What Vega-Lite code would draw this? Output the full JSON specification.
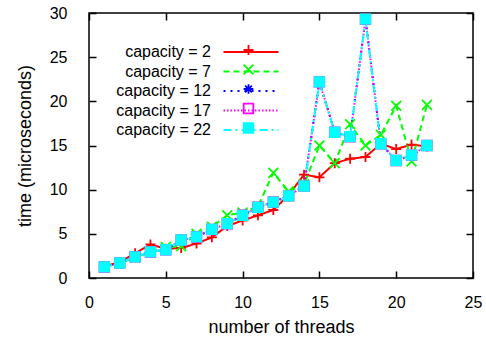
{
  "$schema": "https://vega.github.io/schema/vega-lite/v6.json",
  "autosize": "none",
  "width": 384,
  "height": 265,
  "padding": {"left": 89, "top": 13, "right": 13, "bottom": 65},
  "background": "white",
  "config": {
    "font": "Liberation Sans",
    "view": {"stroke": "#000000", "strokeWidth": 1.5},
    "axis": {"grid": false, "labelColor": "#000", "tickColor": "#000", "domain": false, "labelFlush": false, "labelOverlap": false, "labelBound": false, "labelFontSize": 16, "titleFontSize": 18, "titleFontWeight": "normal", "titleColor": "#000", "tickWidth": 1.5, "tickSize": -7},
    "legend": {"labelFontSize": 16, "labelColor": "#000"}
  },
  "data": {"values": [
    {"threads": 1, "capacity": "capacity = 2", "time": 1.3},
    {"threads": 2, "capacity": "capacity = 2", "time": 1.8},
    {"threads": 3, "capacity": "capacity = 2", "time": 2.8},
    {"threads": 4, "capacity": "capacity = 2", "time": 3.8},
    {"threads": 5, "capacity": "capacity = 2", "time": 3.3},
    {"threads": 6, "capacity": "capacity = 2", "time": 3.4},
    {"threads": 7, "capacity": "capacity = 2", "time": 3.9},
    {"threads": 8, "capacity": "capacity = 2", "time": 4.6},
    {"threads": 9, "capacity": "capacity = 2", "time": 5.9},
    {"threads": 10, "capacity": "capacity = 2", "time": 6.5},
    {"threads": 11, "capacity": "capacity = 2", "time": 7.1},
    {"threads": 12, "capacity": "capacity = 2", "time": 7.7},
    {"threads": 13, "capacity": "capacity = 2", "time": 9.4},
    {"threads": 14, "capacity": "capacity = 2", "time": 11.7},
    {"threads": 15, "capacity": "capacity = 2", "time": 11.4},
    {"threads": 16, "capacity": "capacity = 2", "time": 13.0},
    {"threads": 17, "capacity": "capacity = 2", "time": 13.5},
    {"threads": 18, "capacity": "capacity = 2", "time": 13.7},
    {"threads": 19, "capacity": "capacity = 2", "time": 15.2},
    {"threads": 20, "capacity": "capacity = 2", "time": 14.6},
    {"threads": 21, "capacity": "capacity = 2", "time": 15.1},
    {"threads": 22, "capacity": "capacity = 2", "time": 14.9},
    {"threads": 1, "capacity": "capacity = 7", "time": 1.2},
    {"threads": 2, "capacity": "capacity = 7", "time": 1.7},
    {"threads": 3, "capacity": "capacity = 7", "time": 2.3},
    {"threads": 4, "capacity": "capacity = 7", "time": 2.9},
    {"threads": 5, "capacity": "capacity = 7", "time": 3.5},
    {"threads": 6, "capacity": "capacity = 7", "time": 3.6},
    {"threads": 7, "capacity": "capacity = 7", "time": 5.0},
    {"threads": 8, "capacity": "capacity = 7", "time": 5.8},
    {"threads": 9, "capacity": "capacity = 7", "time": 7.1},
    {"threads": 10, "capacity": "capacity = 7", "time": 7.4},
    {"threads": 11, "capacity": "capacity = 7", "time": 8.1},
    {"threads": 12, "capacity": "capacity = 7", "time": 11.9},
    {"threads": 13, "capacity": "capacity = 7", "time": 9.8},
    {"threads": 14, "capacity": "capacity = 7", "time": 10.6},
    {"threads": 15, "capacity": "capacity = 7", "time": 15.0},
    {"threads": 16, "capacity": "capacity = 7", "time": 13.0},
    {"threads": 17, "capacity": "capacity = 7", "time": 17.4},
    {"threads": 18, "capacity": "capacity = 7", "time": 15.0},
    {"threads": 19, "capacity": "capacity = 7", "time": 16.2},
    {"threads": 20, "capacity": "capacity = 7", "time": 19.5},
    {"threads": 21, "capacity": "capacity = 7", "time": 13.2},
    {"threads": 22, "capacity": "capacity = 7", "time": 19.6},
    {"threads": 1, "capacity": "capacity = 12", "time": 1.25},
    {"threads": 2, "capacity": "capacity = 12", "time": 1.7},
    {"threads": 3, "capacity": "capacity = 12", "time": 2.4},
    {"threads": 4, "capacity": "capacity = 12", "time": 2.95},
    {"threads": 5, "capacity": "capacity = 12", "time": 3.2},
    {"threads": 6, "capacity": "capacity = 12", "time": 4.3},
    {"threads": 7, "capacity": "capacity = 12", "time": 4.65},
    {"threads": 8, "capacity": "capacity = 12", "time": 5.5},
    {"threads": 9, "capacity": "capacity = 12", "time": 6.15},
    {"threads": 10, "capacity": "capacity = 12", "time": 7.1},
    {"threads": 11, "capacity": "capacity = 12", "time": 8.0},
    {"threads": 12, "capacity": "capacity = 12", "time": 8.6},
    {"threads": 13, "capacity": "capacity = 12", "time": 9.3},
    {"threads": 14, "capacity": "capacity = 12", "time": 10.4},
    {"threads": 15, "capacity": "capacity = 12", "time": 22.2},
    {"threads": 16, "capacity": "capacity = 12", "time": 16.5},
    {"threads": 17, "capacity": "capacity = 12", "time": 16.0},
    {"threads": 18, "capacity": "capacity = 12", "time": 29.3},
    {"threads": 19, "capacity": "capacity = 12", "time": 15.2},
    {"threads": 20, "capacity": "capacity = 12", "time": 13.3},
    {"threads": 21, "capacity": "capacity = 12", "time": 13.9},
    {"threads": 22, "capacity": "capacity = 12", "time": 15.0},
    {"threads": 1, "capacity": "capacity = 17", "time": 1.25},
    {"threads": 2, "capacity": "capacity = 17", "time": 1.7},
    {"threads": 3, "capacity": "capacity = 17", "time": 2.4},
    {"threads": 4, "capacity": "capacity = 17", "time": 2.95},
    {"threads": 5, "capacity": "capacity = 17", "time": 3.2},
    {"threads": 6, "capacity": "capacity = 17", "time": 4.3},
    {"threads": 7, "capacity": "capacity = 17", "time": 4.65},
    {"threads": 8, "capacity": "capacity = 17", "time": 5.5},
    {"threads": 9, "capacity": "capacity = 17", "time": 6.15},
    {"threads": 10, "capacity": "capacity = 17", "time": 7.1},
    {"threads": 11, "capacity": "capacity = 17", "time": 8.0},
    {"threads": 12, "capacity": "capacity = 17", "time": 8.6},
    {"threads": 13, "capacity": "capacity = 17", "time": 9.3},
    {"threads": 14, "capacity": "capacity = 17", "time": 10.4},
    {"threads": 15, "capacity": "capacity = 17", "time": 22.2},
    {"threads": 16, "capacity": "capacity = 17", "time": 16.5},
    {"threads": 17, "capacity": "capacity = 17", "time": 16.0},
    {"threads": 18, "capacity": "capacity = 17", "time": 29.3},
    {"threads": 19, "capacity": "capacity = 17", "time": 15.2},
    {"threads": 20, "capacity": "capacity = 17", "time": 13.3},
    {"threads": 21, "capacity": "capacity = 17", "time": 13.9},
    {"threads": 22, "capacity": "capacity = 17", "time": 15.0},
    {"threads": 1, "capacity": "capacity = 22", "time": 1.25},
    {"threads": 2, "capacity": "capacity = 22", "time": 1.7},
    {"threads": 3, "capacity": "capacity = 22", "time": 2.4},
    {"threads": 4, "capacity": "capacity = 22", "time": 2.95},
    {"threads": 5, "capacity": "capacity = 22", "time": 3.2},
    {"threads": 6, "capacity": "capacity = 22", "time": 4.3},
    {"threads": 7, "capacity": "capacity = 22", "time": 4.65},
    {"threads": 8, "capacity": "capacity = 22", "time": 5.5},
    {"threads": 9, "capacity": "capacity = 22", "time": 6.15},
    {"threads": 10, "capacity": "capacity = 22", "time": 7.1},
    {"threads": 11, "capacity": "capacity = 22", "time": 8.0},
    {"threads": 12, "capacity": "capacity = 22", "time": 8.6},
    {"threads": 13, "capacity": "capacity = 22", "time": 9.3},
    {"threads": 14, "capacity": "capacity = 22", "time": 10.4},
    {"threads": 15, "capacity": "capacity = 22", "time": 22.2},
    {"threads": 16, "capacity": "capacity = 22", "time": 16.5},
    {"threads": 17, "capacity": "capacity = 22", "time": 16.0},
    {"threads": 18, "capacity": "capacity = 22", "time": 29.3},
    {"threads": 19, "capacity": "capacity = 22", "time": 15.2},
    {"threads": 20, "capacity": "capacity = 22", "time": 13.3},
    {"threads": 21, "capacity": "capacity = 22", "time": 13.9},
    {"threads": 22, "capacity": "capacity = 22", "time": 15.0}
  ]},
  "layer": [
    {
      "mark": {"type": "line", "strokeWidth": 2, "clip": true},
      "encoding": {
        "x": {"field": "threads", "type": "quantitative", "scale": {"domain": [0, 25], "nice": false},
              "axis": {"orient": "bottom", "values": [0, 5, 10, 15, 20, 25], "labelPadding": 23, "title": "number of threads", "titleBaseline": "middle", "titleY": 49}},
        "y": {"field": "time", "type": "quantitative", "scale": {"domain": [0, 30], "nice": false},
              "axis": {"orient": "left", "values": [0, 5, 10, 15, 20, 25, 30], "labelPadding": 29, "title": "time (microseconds)", "titleBaseline": "middle", "titleX": -64, "titleY": 132.5}},
        "color": {"field": "capacity", "type": "nominal",
                  "scale": {"domain": ["capacity = 2", "capacity = 7", "capacity = 12", "capacity = 17", "capacity = 22"], "range": ["#ff0000", "#00ff00", "#0000ff", "#ff00ff", "#00ffff"]},
                  "legend": {"orient": "none", "legendX": 154, "legendY": 31, "title": null, "symbolType": "M-5,0L5,0", "symbolSize": 121, "symbolStrokeWidth": 2, "labelAlign": "right", "labelOffset": -48, "rowPadding": 3.5}},
        "strokeDash": {"field": "capacity", "type": "nominal",
                  "scale": {"domain": ["capacity = 2", "capacity = 7", "capacity = 12", "capacity = 17", "capacity = 22"], "range": [[1, 0], [6, 4], [2, 5], [1.5, 2], [8, 4, 2, 4]]}}
      }
    },
    {
      "mark": {"type": "point", "strokeWidth": 1.8, "opacity": 1, "clip": true},
      "encoding": {
        "x": {"field": "threads", "type": "quantitative", "scale": {"domain": [0, 25], "nice": false},
              "axis": {"orient": "top", "values": [0, 5, 10, 15, 20, 25], "labels": false, "title": null}},
        "y": {"field": "time", "type": "quantitative", "scale": {"domain": [0, 30], "nice": false},
              "axis": {"orient": "right", "values": [0, 5, 10, 15, 20, 25, 30], "labels": false, "title": null}},
        "stroke": {"field": "capacity", "type": "nominal",
                  "scale": {"domain": ["capacity = 2", "capacity = 7", "capacity = 12", "capacity = 17", "capacity = 22"], "range": ["#ff0000", "#00ff00", "#0000ff", "#ff00ff", "#00ffff"]},
                  "legend": {"orient": "none", "legendX": 151.5, "legendY": 29, "title": null, "labelOpacity": 0, "symbolStrokeWidth": 1.8, "clipHeight": 16, "rowPadding": 3.5}},
        "fill": {"field": "capacity", "type": "nominal",
                  "scale": {"domain": ["capacity = 2", "capacity = 7", "capacity = 12", "capacity = 17", "capacity = 22"], "range": ["transparent", "transparent", "transparent", "transparent", "#00ffff"]}},
        "shape": {"field": "capacity", "type": "nominal",
                  "scale": {"domain": ["capacity = 2", "capacity = 7", "capacity = 12", "capacity = 17", "capacity = 22"], "range": ["M-1,0L1,0M0,-1L0,1", "M-1,-1L1,1M-1,1L1,-1", "M-1,0L1,0M0,-1L0,1M-0.7,-0.7L0.7,0.7M-0.7,0.7L0.7,-0.7", "square", "square"]}},
        "size": {"field": "capacity", "type": "nominal",
                  "scale": {"domain": ["capacity = 2", "capacity = 7", "capacity = 12", "capacity = 17", "capacity = 22"], "range": [100, 90, 64, 90, 56]}}
      }
    }
  ],
  "resolve": {
    "scale": {"color": "independent", "stroke": "independent", "fill": "independent", "shape": "independent", "size": "independent", "strokeDash": "independent"},
    "axis": {"x": "independent", "y": "independent"},
    "legend": {"color": "independent", "stroke": "independent"}
  }
}
